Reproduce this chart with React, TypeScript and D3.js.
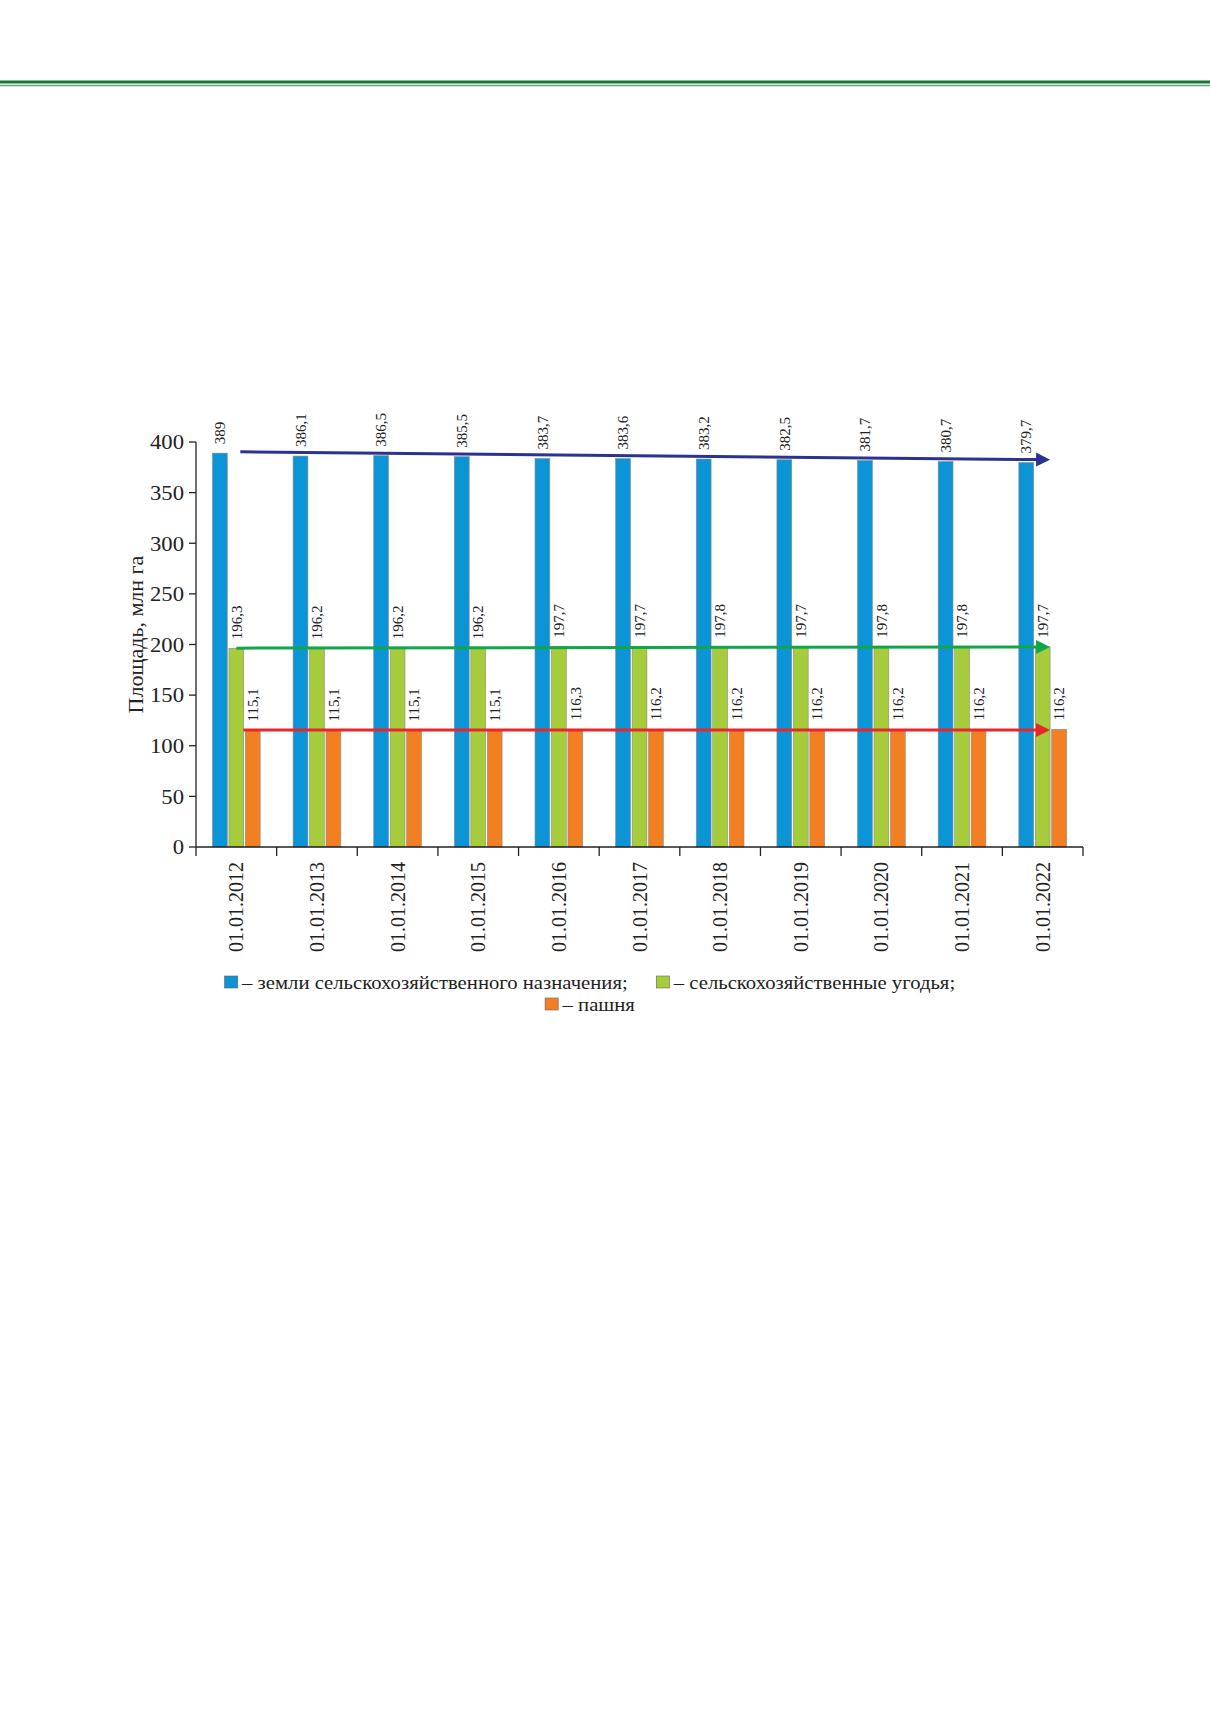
import { useEffect, useRef } from "react";
import * as d3 from "d3";

// ---- data ----
const categories = [
  "01.01.2012", "01.01.2013", "01.01.2014", "01.01.2015", "01.01.2016", "01.01.2017",
  "01.01.2018", "01.01.2019", "01.01.2020", "01.01.2021", "01.01.2022",
];
const seriesKeys = ["land", "agri", "arable"];
const seriesNames = [
  "– земли сельскохозяйственного назначения;",
  "– сельскохозяйственные угодья;",
  "– пашня",
];
const seriesColors = ["#0b95d7", "#a6cc3b", "#f28023"];
const landValues = [389, 386.1, 386.5, 385.5, 383.7, 383.6, 383.2, 382.5, 381.7, 380.7, 379.7];
const agriValues = [196.3, 196.2, 196.2, 196.2, 197.7, 197.7, 197.8, 197.7, 197.8, 197.8, 197.7];
const arableValues = [115.1, 115.1, 115.1, 115.1, 116.3, 116.2, 116.2, 116.2, 116.2, 116.2, 116.2];
const yTicks = [0, 50, 100, 150, 200, 250, 300, 350, 400];

// trend arrows (start / end value per series)
const trendStart = [390.3, 196.4, 115.6];
const trendEnd = [382.5, 197.6, 115.6];
const trendColors = ["#2b3391", "#12a64b", "#e8262b"];

const FONT = "'Liberation Serif', 'Times New Roman', serif";

export default function App() {
  const ref = useRef<SVGSVGElement | null>(null);

  useEffect(() => {
    const svgEl = ref.current;
    if (!svgEl) return;
    const svg = d3.select(svgEl);
    svg.selectAll("*").remove();

    // ------- page header lines -------
    svg.append("line").attr("x1", 0).attr("x2", 1210).attr("y1", 82).attr("y2", 82)
      .attr("stroke", "#17733a").attr("stroke-width", 3);
    svg.append("line").attr("x1", 0).attr("x2", 1210).attr("y1", 85.5).attr("y2", 85.5)
      .attr("stroke", "#5aa673").attr("stroke-width", 1.3);

    // ------- scales -------
    const left = 196, right = 1083, top = 442, bottom = 847;
    const x = d3.scaleBand<string>().domain(categories).range([left, right]).padding(0);
    const xs = d3.scaleBand<string>().domain(seriesKeys).range([0, x.bandwidth()])
      .paddingInner(0.1).paddingOuter(1.0);
    const y = d3.scaleLinear().domain([0, 400]).range([bottom, top]);

    const valuesBy: Record<string, number[]> = {
      land: landValues, agri: agriValues, arable: arableValues,
    };

    const g = svg.append("g");

    // ------- bars -------
    seriesKeys.forEach((k, si) => {
      g.append("g").selectAll("rect")
        .data(categories)
        .enter()
        .append("rect")
        .attr("x", (c) => x(c)! + xs(k)!)
        .attr("y", (c, i) => y(valuesBy[k][i]))
        .attr("width", xs.bandwidth())
        .attr("height", (c, i) => bottom - y(valuesBy[k][i]))
        .attr("fill", seriesColors[si])
        .attr("stroke", "#8a8a8a")
        .attr("stroke-width", 0.6);
    });

    // ------- value labels (rotated, above bars) -------
    seriesKeys.forEach((k) => {
      g.append("g").selectAll("text")
        .data(categories)
        .enter()
        .append("text")
        .attr("transform", (c, i) =>
          `translate(${x(c)! + xs(k)! + xs.bandwidth() / 2},${y(valuesBy[k][i]) - 9}) rotate(-90)`)
        .attr("dy", "0.35em")
        .attr("text-anchor", "start")
        .attr("font-family", FONT)
        .attr("font-size", 15)
        .attr("fill", "#222")
        .text((c, i) => String(valuesBy[k][i]).replace(".", ","));
    });

    // ------- trend arrows -------
    const xStart = x(categories[0])! + xs("agri")! + xs.bandwidth() / 2;
    const xEnd = x(categories[categories.length - 1])! + xs("agri")! + xs.bandwidth();
    seriesKeys.forEach((k, si) => {
      const x0 = k === "arable" ? x(categories[0])! + xs("arable")! - 2 : xStart + (k === "land" ? 4 : 0);
      const x1 = xEnd;
      const y0 = y(trendStart[si]);
      const y1 = y(trendEnd[si]);
      const ang = Math.atan2(y1 - y0, x1 - x0);
      const headL = 14, headW = 7;
      const bx = x1 - headL * Math.cos(ang), by = y1 - headL * Math.sin(ang);
      g.append("line")
        .attr("x1", x0).attr("y1", y0).attr("x2", bx + Math.cos(ang)).attr("y2", by + Math.sin(ang))
        .attr("stroke", trendColors[si]).attr("stroke-width", 3);
      const px = -Math.sin(ang), py = Math.cos(ang);
      g.append("polygon")
        .attr("points", [
          [x1, y1],
          [bx + px * headW, by + py * headW],
          [bx - px * headW, by - py * headW],
        ].map((p) => p.join(",")).join(" "))
        .attr("fill", trendColors[si]);
    });

    // ------- axes -------
    const axisColor = "#222";
    g.append("line").attr("x1", left).attr("x2", left).attr("y1", top).attr("y2", bottom)
      .attr("stroke", axisColor).attr("stroke-width", 1.3);
    g.append("line").attr("x1", left).attr("x2", right).attr("y1", bottom).attr("y2", bottom)
      .attr("stroke", axisColor).attr("stroke-width", 1.3);

    // y ticks
    const yt = g.append("g").selectAll("g").data(yTicks).enter().append("g");
    yt.append("line").attr("x1", left - 7).attr("x2", left).attr("y1", (d) => y(d)).attr("y2", (d) => y(d))
      .attr("stroke", axisColor).attr("stroke-width", 1.3);
    yt.append("text")
      .attr("transform", (d) => `translate(${left - 12},${y(d)}) scale(1.08,1)`)
      .attr("dy", "0.35em")
      .attr("text-anchor", "end")
      .attr("font-family", FONT).attr("font-size", 21).attr("fill", "#222")
      .text((d) => d);

    // x ticks at category boundaries
    const bounds = [...categories.map((c) => x(c)!), right];
    g.append("g").selectAll("line").data(bounds).enter().append("line")
      .attr("x1", (d) => d).attr("x2", (d) => d).attr("y1", bottom).attr("y2", bottom + 9)
      .attr("stroke", axisColor).attr("stroke-width", 1.3);
    g.append("g").selectAll("text").data(categories).enter().append("text")
      .attr("transform", (c) => `translate(${x(c)! + x.bandwidth() / 2},${bottom + 15}) rotate(-90)`)
      .attr("dy", "0.35em")
      .attr("text-anchor", "end")
      .attr("font-family", FONT).attr("font-size", 20).attr("fill", "#222")
      .text((c) => c);

    // y title
    g.append("text")
      .attr("transform", `translate(135,${(top + bottom) / 2 - 10}) rotate(-90)`)
      .attr("dy", "0.35em")
      .attr("text-anchor", "middle")
      .attr("font-family", FONT).attr("font-size", 22).attr("fill", "#222")
      .text("Площадь, млн га");

    // ------- legend -------
    const legendCx = 590;
    const stretch = 1.09;
    const rows = [[0, 1], [2]];
    const rowY = [982, 1004];
    const sq = 12, gap = 4, itemGap = 26;
    rows.forEach((items, ri) => {
      const row = svg.append("g");
      let cx = 0;
      items.forEach((si) => {
        row.append("rect").attr("x", cx).attr("y", -sq / 2).attr("width", sq).attr("height", sq)
          .attr("fill", seriesColors[si]).attr("stroke", "#666").attr("stroke-width", 0.6);
        const t = row.append("text").attr("x", cx + sq + gap).attr("y", 0).attr("dy", "0.35em")
          .attr("font-family", FONT).attr("font-size", 19).attr("fill", "#222")
          .text(seriesNames[si]);
        const w = (t.node() as SVGTextElement).getComputedTextLength();
        cx += sq + gap + w + itemGap;
      });
      const total = (cx - itemGap) * stretch;
      row.attr("transform", `translate(${legendCx - total / 2},${rowY[ri]}) scale(${stretch},1)`);
    });
  }, []);

  return (
    <svg
      ref={ref}
      width={1210}
      height={1712}
      style={{ position: "absolute", left: 0, top: 0, background: "#fff" }}
    />
  );
}
